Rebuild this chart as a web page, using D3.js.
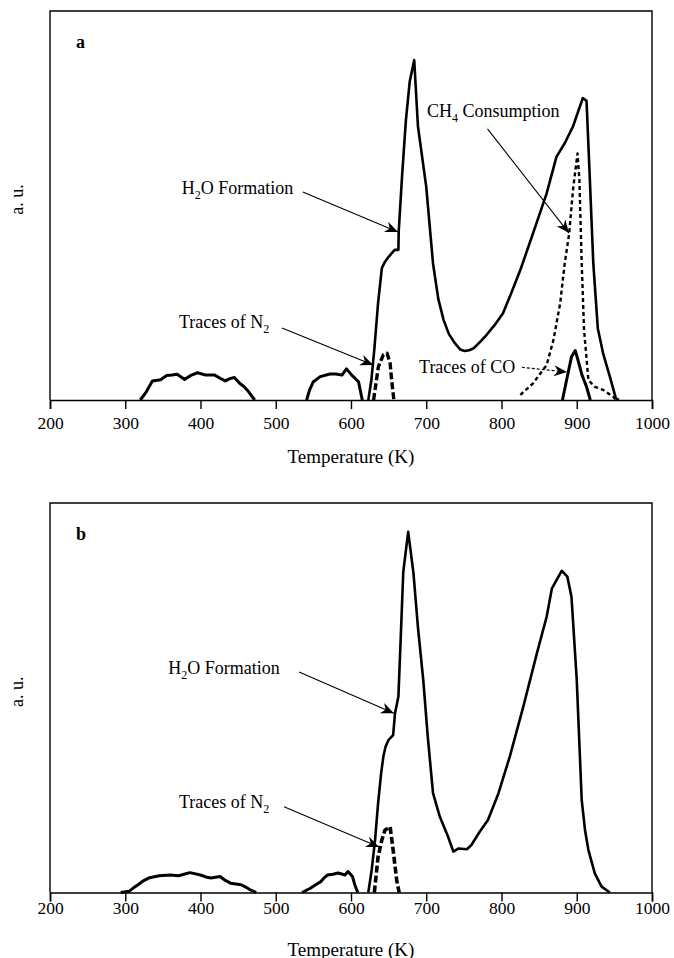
<!DOCTYPE html>
<html>
<head>
<meta charset="utf-8">
<script src="https://cdn.jsdelivr.net/npm/d3@7"></script>
<style>
  html, body { margin: 0; padding: 0; background: #fff; }
  svg { display: block; }
  text { font-family: "Liberation Serif", "Times New Roman", serif; fill: #000; }
</style>
</head>
<body>
<svg id="chart" width="674" height="958"></svg>
<script>
// Temperature axis ticks (K)
const tempTicks = [200, 300, 400, 500, 600, 700, 800, 900, 1000];

// ---- Panel a : signals as [temperature K, intensity a.u.] ----
const aH2O = [[623,0],[627,5],[631,13],[636,25],[641,33.9],[645,35.5],[650,36.8],[658,38.6],[663,38.6],[663.4,43.3],[668,58],[673,72],[678,81.8],[684,87.4],[689,70.3],[700,54.8],[709,35.1],[716,26],[723,20.6],[730,17],[738,14.6],[745,13],[751,12.6],[757,12.8],[763,13.3],[771,14.8],[780,16.7],[791,19.3],[802,22.3],[813,27.5],[825,33.4],[842,42.9],[860,53.1],[873,62.5],[884,66],[895,70.3],[908,77.6],[913,76.9],[916.7,60],[922,35.1],[928,18.4],[935,12],[944,6],[952,0.4],[956,0]];
const aCH4 = [[825,1.3],[842,4.3],[860,9],[869,15.4],[878,24.9],[884,35.1],[890,42.9],[895,54],[901,63.4],[903.5,56.6],[906.6,35.1],[909.7,18],[915.5,5.1],[924,3.4],[935,2.6],[948.6,0.8],[952,0]];
const aCO  = [[881,0],[887,5.6],[893,11.1],[898,12.7],[901,10.7],[907,6.4],[913,3.4],[918,0]];
const aN2  = [[630,0],[636.4,8.6],[643,11.6],[648,12],[652,9.4],[654,5.1],[657,0]];
const aLow1 = [[320,0],[328,2.1],[336,4.9],[347,5.2],[355,6.3],[362,6.4],[369,6.6],[379,5.3],[388,6.4],[396,7],[407,6.4],[419,6.4],[426,5.6],[433,4.9],[439,5.5],[445,5.8],[452,4.3],[458,3.4],[464,2.1],[472,0]];
const aLow2 = [[541,0],[545,2.6],[550,4.7],[559,6],[572,6.7],[580,6.7],[588,6.4],[594,8],[601,6.4],[610,4.7],[615,0]];

// ---- Panel b ----
const bH2O = [[623,0],[627.5,5.8],[632,13.5],[636,22.9],[640,30.5],[643,34.9],[646,37.5],[650,39.2],[656,40.4],[658.5,46],[663,50.3],[666,65],[669.5,82.4],[676,92.6],[683,82],[689,68],[696,54.6],[702,40],[709,25.5],[718,19.5],[729,14.3],[736,10.5],[743,11.3],[754,11.1],[760,12.2],[771,15.6],[782,18.6],[796,25.5],[811,34.9],[829,47.7],[847,61.4],[860,70.8],[867,78.1],[880,82.6],[887.5,81.1],[893,75.9],[900,54.6],[906.6,23.7],[911,16],[915.5,10.9],[924,4.9],[933,1.5],[944,0]];
const bN2  = [[631,0],[636,9.2],[641,13.5],[645,16],[652,16.9],[656,10.9],[660.7,3.2],[664,0]];
const bLow1 = [[294,0],[305,0.3],[311,1.2],[317,2],[324,3],[331,3.7],[345,4.3],[360,4.5],[371,4.3],[378,4.7],[386,5.1],[400,4.5],[407,4],[414,3.7],[420,3.9],[426,4.1],[433,3.1],[440,2.4],[454,2],[460,1.4],[466,0.7],[474,0]];
const bLow2 = [[535,0],[546,1.1],[553,2],[560,2.8],[565,3.9],[569,4.5],[576,4.7],[583,5],[592,4.5],[596,5.4],[602,4.1],[605,2],[609,0]];

// Annotations: text, text anchor [T, a.u.], arrow from [T, a.u.] to [T, a.u.]
const aNotes = [
  { parts: [["H",0],["2",1],["O Formation",0]], at: [375, 53], from: [536, 53.5], to: [662.5, 43.2], dashed: false },
  { parts: [["CH",0],["4",1],[" Consumption",0]], at: [701, 72.8], from: [781.4, 69.7], to: [889.7, 42.9], dashed: false },
  { parts: [["Traces of N",0],["2",1]], at: [371.4, 18.5], from: [508.3, 18.5], to: [629.5, 9], dashed: false },
  { parts: [["Traces of CO",0]], at: [690.4, 6.9], from: [827, 8.4], to: [887, 7.2], dashed: true }
];
const bNotes = [
  { parts: [["H",0],["2",1],["O Formation",0]], at: [357, 56], from: [531, 56.6], to: [657, 46], dashed: false },
  { parts: [["Traces of N",0],["2",1]], at: [371.4, 21.8], from: [511, 22], to: [637.2, 11.7], dashed: false }
];

const svg = d3.select("#chart");

const defs = svg.append("defs");
defs.append("marker")
  .attr("id", "head")
  .attr("viewBox", "-14 -6 16 12")
  .attr("refX", 0).attr("refY", 0)
  .attr("markerUnits", "userSpaceOnUse")
  .attr("markerWidth", 16).attr("markerHeight", 12)
  .attr("orient", "auto")
  .append("path")
  .attr("d", "M0,0 L-13,-5.5 L-9,0 L-13,5.5 Z")
  .attr("fill", "#000");

function drawPanel(cfg) {
  const x = d3.scaleLinear().domain([200, 1000]).range([50, 652]);
  const y = d3.scaleLinear().domain([0, 100]).range([cfg.bottom, cfg.top]);
  const g = svg.append("g");

  // frame
  g.append("path")
    .attr("d", `M${x(200)},${y(0)} V${y(100)} H${x(1000)} V${y(0)}`)
    .attr("fill", "none").attr("stroke", "#000").attr("stroke-width", 1.4);

  // x axis
  const ax = g.append("g")
    .attr("transform", `translate(0,${y(0)})`)
    .call(d3.axisBottom(x).tickValues(tempTicks).tickSize(9).tickPadding(cfg.pad).tickFormat(d3.format("d")));
  ax.select(".domain").attr("stroke-width", 1.6);
  ax.selectAll(".tick line").attr("stroke-width", 1.4);
  ax.selectAll(".tick text")
    .style("font-family", '"Liberation Serif", serif')
    .style("font-size", "17.5px");

  g.append("text")
    .attr("x", (x(200) + x(1000)) / 2)
    .attr("y", y(0) + 63)
    .attr("text-anchor", "middle")
    .style("font-size", "19px")
    .text("Temperature (K)");

  g.append("text")
    .attr("transform", `translate(23,${(y(0) + y(100)) / 2 - 6}) rotate(-90)`)
    .attr("text-anchor", "middle")
    .style("font-size", "18px")
    .text("a.  u.");

  g.append("text")
    .attr("x", 76).attr("y", y(100) + 37)
    .style("font-size", "18px").style("font-weight", "bold")
    .text(cfg.letter);

  const line = d3.line().x(d => x(d[0])).y(d => y(d[1]));

  cfg.series.forEach(s => {
    g.append("path")
      .datum(s.data)
      .attr("d", line)
      .attr("fill", "none")
      .attr("stroke", "#000")
      .attr("stroke-width", s.w)
      .attr("stroke-linejoin", "round")
      .attr("stroke-dasharray", s.dash || null);
  });

  cfg.notes.forEach(n => {
    const t = g.append("text")
      .attr("x", x(n.at[0])).attr("y", y(n.at[1]))
      .style("font-size", "18px");
    let sub = false;
    n.parts.forEach(([str, isSub]) => {
      const ts = t.append("tspan").text(str);
      if (isSub && !sub) { ts.attr("dy", 5).style("font-size", "12px"); sub = true; }
      else if (!isSub && sub) { ts.attr("dy", -5); sub = false; }
    });
    g.append("line")
      .attr("x1", x(n.from[0])).attr("y1", y(n.from[1]))
      .attr("x2", x(n.to[0])).attr("y2", y(n.to[1]))
      .attr("stroke", "#000").attr("stroke-width", 1.1)
      .attr("stroke-dasharray", n.dashed ? "3,2" : null)
      .attr("marker-end", "url(#head)");
  });
}

drawPanel({
  letter: "a", top: 11, bottom: 400, pad: 8,
  series: [
    { data: aLow1, w: 3 }, { data: aLow2, w: 3 },
    { data: aH2O, w: 2.6 },
    { data: aN2, w: 3.4, dash: "7,3" },
    { data: aCH4, w: 2.4, dash: "4,3" },
    { data: aCO, w: 3 }
  ],
  notes: aNotes
});

drawPanel({
  letter: "b", top: 503, bottom: 892.5, pad: 0,
  series: [
    { data: bLow1, w: 3 }, { data: bLow2, w: 3 },
    { data: bH2O, w: 2.6 },
    { data: bN2, w: 3.6, dash: "7,3" }
  ],
  notes: bNotes
});
</script>
</body>
</html>
